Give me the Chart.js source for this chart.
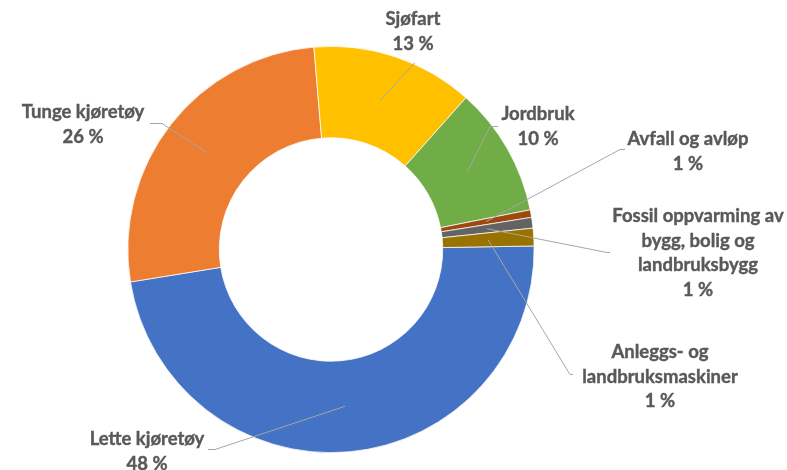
<!DOCTYPE html>
<html>
<head>
<meta charset="utf-8">
<script src="https://cdn.jsdelivr.net/npm/chart.js@4"></script>
<style>
  body { margin: 0; background: #fff; }
  #wrap { width: 787px; height: 470px; }
</style>
</head>
<body>
<div id="wrap"><canvas id="myDoughnut"></canvas></div>
<script>
"use strict";

// Categories, shares (percent) and slice colours
const categories = [
	["Lette kjøretøy"],
	["Tunge kjøretøy"],
	["Sjøfart"],
	["Jordbruk"],
	["Avfall og avløp"],
	["Fossil oppvarming av", "bygg, bolig og", "landbruksbygg"],
	["Anleggs- og", "landbruksmaskiner"],
];
const shares = [47.7, 26.2, 12.9, 10.3, 0.6, 0.85, 1.4];
const colors = ["#4472C4", "#ED7D31", "#FFC000", "#70AD47", "#9E480E", "#636363", "#997300"];

// Where each label sits (label centre, relative to doughnut centre) and where its leader line ends
const labelPos = [[-184, 190], [-248, -137], [82, -230], [207, -135], [357, -110], [367, -33], [329, 103]];
const leaderEnd = [[-116, 200], [-169, -126], [84, -187], [159, -123], [289, -100], [276, 3], [239, 125]];
const leaderElbow = [[-123, 200], [-181, -126], [84, -187], [167, -123], [294, -100], [279, 3], [242, 125]];

const labelPlugin = {
	id: "outerLabels",
	afterDatasetsDraw(chart) {
		const ctx = chart.ctx;
		const meta = chart.getDatasetMeta(0);
		const total = shares.reduce((a, b) => a + b, 0);
		ctx.save();
		meta.data.forEach(function (arc, i) {
			const cx = arc.x;
			const cy = arc.y;
			const start = arc.getCenterPoint();

			// Leader line
			ctx.strokeStyle = "#A6A6A6";
			ctx.lineWidth = 1;
			ctx.beginPath();
			ctx.moveTo(start.x, start.y);
			ctx.lineTo(cx + leaderEnd[i][0], cy + leaderEnd[i][1]);
			ctx.lineTo(cx + leaderElbow[i][0], cy + leaderElbow[i][1]);
			ctx.stroke();

			// Label text
			const lines = categories[i].concat([Math.round((shares[i] / total) * 100) + " %"]);
			ctx.fillStyle = "#595959";
			ctx.strokeStyle = "#595959";
			ctx.lineWidth = 0.4;
			ctx.font = "bold 18.5px Lato";
			ctx.textAlign = "center";
			ctx.textBaseline = "middle";
			const lx = cx + labelPos[i][0];
			const ly = cy + labelPos[i][1];
			lines.forEach(function (line, j) {
				ctx.fillText(line, lx, ly + j * 24.5);
				ctx.strokeText(line, lx, ly + j * 24.5);
			});
		});
		ctx.restore();
	},
};

new Chart(document.getElementById("myDoughnut"), {
	type: "doughnut",
	data: {
		labels: categories.map((c) => c.join(" ")),
		datasets: [
			{
				data: shares,
				backgroundColor: colors,
				borderColor: "#ffffff",
				borderWidth: 0.75,
			},
		],
	},
	options: {
		responsive: true,
		maintainAspectRatio: false,
		animation: false,
		cutout: "55%",
		rotation: 89,
		layout: {
			padding: { left: 0, right: 125, top: 46, bottom: 17 },
		},
		plugins: {
			legend: { display: false },
			tooltip: { enabled: false },
		},
	},
	plugins: [labelPlugin],
});
</script>
</body>
</html>
